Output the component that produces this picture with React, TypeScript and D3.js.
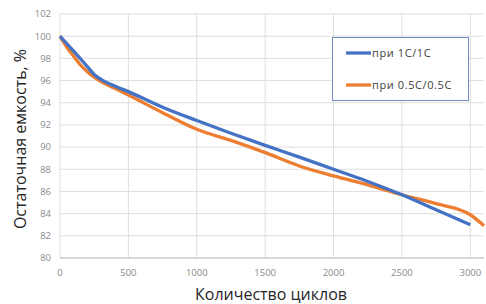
import * as d3 from "d3";
import { useEffect, useRef } from "react";

type Pt = { x: number; y: number };

const cycles1C = [0, 100, 200, 250, 300, 400, 500, 750, 1000, 1250, 1500, 1750, 2000, 2250, 2500, 2750, 3000];
const capacity1C = [100, 98.65, 97.25, 96.55, 96.1, 95.5, 95.0, 93.6, 92.4, 91.25, 90.15, 89.1, 88.0, 86.9, 85.7, 84.35, 83.0];

const cycles05C = [0, 50, 100, 150, 200, 250, 300, 400, 500, 750, 1000, 1250, 1500, 1750, 2000, 2250, 2500, 2750, 3000, 3100];
const capacity05C = [100, 99.0, 98.2, 97.4, 96.8, 96.3, 95.9, 95.3, 94.7, 93.1, 91.6, 90.6, 89.5, 88.3, 87.4, 86.6, 85.7, 84.9, 83.9, 82.9];

const xTicks = [0, 500, 1000, 1500, 2000, 2500, 3000];
const yTicks = [80, 82, 84, 86, 88, 90, 92, 94, 96, 98, 100, 102];

const seriesNames = ["при 1C/1C", "при 0.5C/0.5C"];
const seriesColors = ["#4472C4", "#ED7D31"];

const App = () => {
  const ref = useRef<SVGSVGElement | null>(null);

  useEffect(() => {
    if (!ref.current) return;
    const svg = d3.select(ref.current);
    svg.selectAll("*").remove();
    const width = 486;
    const height = 304;
    const margin = { top: 14, right: 2, bottom: 46, left: 60 };

    const x = d3.scaleLinear().domain([0, 3100]).range([margin.left, width - margin.right]);
    const y = d3.scaleLinear().domain([80, 102]).range([height - margin.bottom, margin.top]);

    svg.attr("width", width).attr("height", height);

    // grid
    const grid = svg.append("g");
    grid
      .selectAll("line.h")
      .data(yTicks)
      .join("line")
      .attr("x1", margin.left)
      .attr("x2", width - margin.right)
      .attr("y1", (d) => y(d))
      .attr("y2", (d) => y(d))
      .attr("stroke", "#dedede")
      .attr("stroke-width", 1);
    grid
      .selectAll("line.v")
      .data(xTicks)
      .join("line")
      .attr("x1", (d) => x(d))
      .attr("x2", (d) => x(d))
      .attr("y1", margin.top)
      .attr("y2", height - margin.bottom)
      .attr("stroke", "#dedede")
      .attr("stroke-width", 1);

    // axis line
    svg
      .append("line")
      .attr("x1", margin.left)
      .attr("x2", width - margin.right)
      .attr("y1", y(80))
      .attr("y2", y(80))
      .attr("stroke", "#d0d0d0")
      .attr("stroke-width", 1.5);

    const font = "'Open Sans', 'DejaVu Sans', sans-serif";

    svg
      .append("g")
      .selectAll("text")
      .data(yTicks)
      .join("text")
      .attr("x", 51)
      .attr("y", (d) => y(d))
      .attr("dy", "0.35em")
      .attr("text-anchor", "end")
      .attr("font-family", font)
      .attr("font-size", 9.5)
      .attr("fill", "#8a8a8a")
      .text((d) => d);

    svg
      .append("g")
      .selectAll("text")
      .data(xTicks)
      .join("text")
      .attr("x", (d) => x(d))
      .attr("y", 273)
      .attr("dy", "0.35em")
      .attr("text-anchor", "middle")
      .attr("font-family", font)
      .attr("font-size", 9.5)
      .attr("fill", "#8a8a8a")
      .text((d) => d);

    // lines
    const line = d3
      .line<Pt>()
      .x((d) => x(d.x))
      .y((d) => y(d.y))
      .curve(d3.curveMonotoneX);

    const series: Pt[][] = [
      cycles1C.map((c, i) => ({ x: c, y: capacity1C[i] })),
      cycles05C.map((c, i) => ({ x: c, y: capacity05C[i] })),
    ];

    [1, 0].forEach((i) => {
      svg
        .append("path")
        .datum(series[i])
        .attr("d", line)
        .attr("fill", "none")
        .attr("stroke", seriesColors[i])
        .attr("stroke-width", 3.3)
        .attr("stroke-linejoin", "round");
    });

    // legend
    const lg = svg.append("g");
    lg.append("rect")
      .attr("x", 332.5)
      .attr("y", 37.5)
      .attr("width", 136)
      .attr("height", 63)
      .attr("fill", "#ffffff")
      .attr("stroke", "#6f8cc6")
      .attr("stroke-width", 1);
    seriesNames.forEach((name, i) => {
      const cy = 53 + i * 32;
      lg.append("line")
        .attr("x1", 346)
        .attr("x2", 371)
        .attr("y1", cy)
        .attr("y2", cy)
        .attr("stroke", seriesColors[i])
        .attr("stroke-width", 3.3);
      lg.append("text")
        .attr("x", 372)
        .attr("y", cy)
        .attr("dy", "0.35em")
        .attr("font-family", font)
        .attr("font-size", 11)
        .attr("letter-spacing", 0.6)
        .attr("fill", "#404040")
        .text(name);
    });

    // titles
    svg
      .append("text")
      .attr("x", 271)
      .attr("y", 300)
      .attr("text-anchor", "middle")
      .attr("font-family", font)
      .attr("font-size", 16)
      .attr("fill", "#262626")
      .text("Количество циклов");

    svg
      .append("text")
      .attr("transform", "translate(26,139) rotate(-90)")
      .attr("text-anchor", "middle")
      .attr("font-family", font)
      .attr("font-size", 16)
      .attr("fill", "#262626")
      .text("Остаточная емкость, %");
  }, []);

  return <svg ref={ref} style={{ position: "absolute", left: 0, top: 0 }}></svg>;
};

export default App;
